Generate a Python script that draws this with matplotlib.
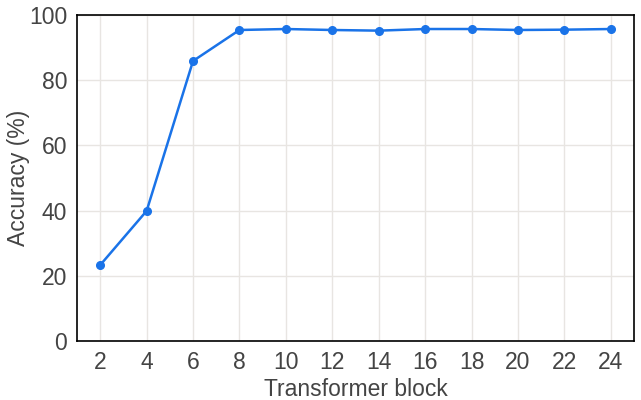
import matplotlib
matplotlib.use("Agg")
import matplotlib.pyplot as plt

blocks = [2, 4, 6, 8, 10, 12, 14, 16, 18, 20, 22, 24]
accuracy = [23.3, 39.9, 85.9, 95.4, 95.7, 95.4, 95.2, 95.7, 95.7, 95.4, 95.5, 95.7]

plt.rcParams['font.family'] = ['Liberation Sans', 'DejaVu Sans']
text_color = '#444444'

fig = plt.figure(figsize=(6.41, 4.0), dpi=100)
ax = fig.add_axes([77 / 641, 1 - 341 / 400, (634 - 77) / 641, (341 - 15) / 400])

ax.plot(blocks, accuracy, color='#1a73e8', linewidth=1.8, marker='o', markersize=5.5, zorder=3)

ax.set_xlim(1, 25)
ax.set_ylim(0, 100)
ax.set_xticks(blocks)
ax.set_yticks([0, 20, 40, 60, 80, 100])
ax.grid(True, color='#e8e5e2', linewidth=1)
ax.set_axisbelow(True)
ax.tick_params(length=0, labelsize=16.5, labelcolor=text_color, pad=7)
for s in ax.spines.values():
    s.set_linewidth(1.2)
    s.set_color('black')

ax.set_xlabel('Transformer block', fontsize=16.5, color=text_color, labelpad=3)
ax.set_ylabel('Accuracy (%)', fontsize=16.5, color=text_color, va='center')
ax.yaxis.set_label_coords(-0.105, 0.5)

fig.savefig('out.png', dpi=100)
